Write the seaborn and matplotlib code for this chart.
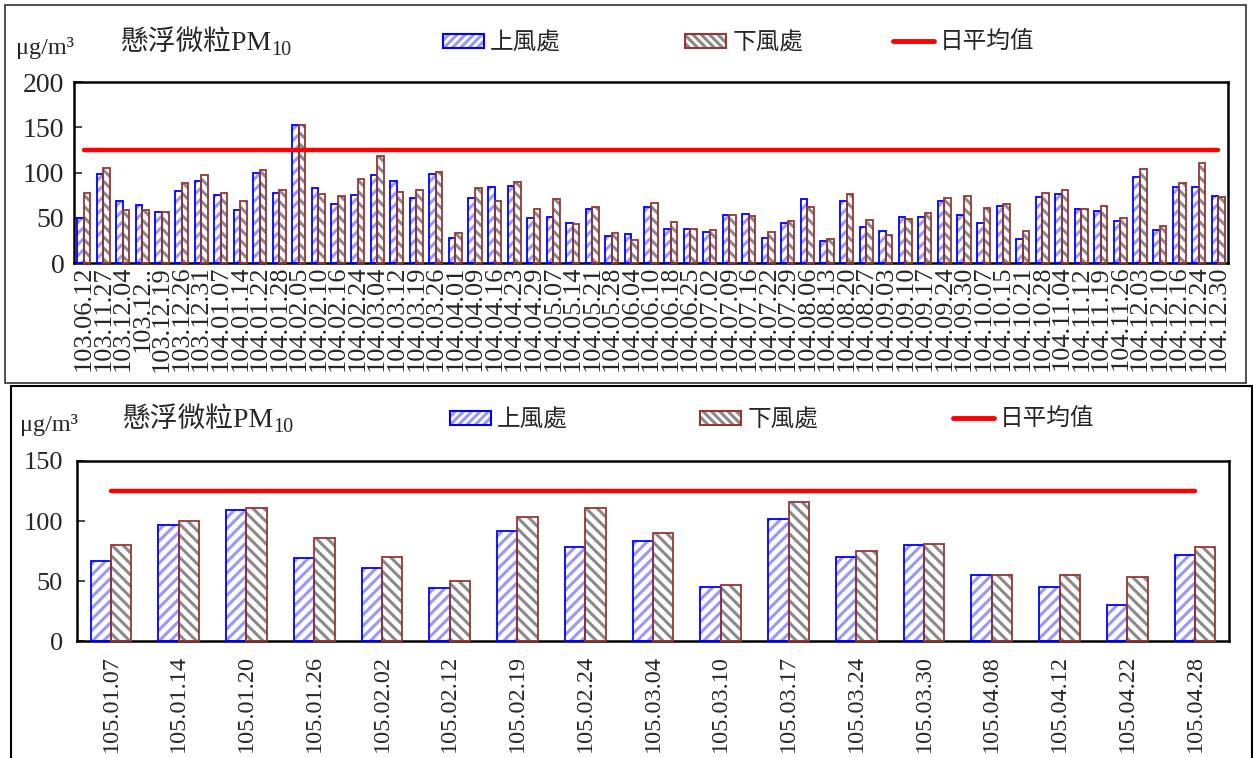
import numpy as np
import pandas as pd
import matplotlib.pyplot as plt
import seaborn as sns
from matplotlib.patches import Rectangle, Patch
from matplotlib.lines import Line2D

# 103-104年 監測資料
dates_1 = ['103.06.12', '103.11.27', '103.12.04', '103.12..', '103.12.19', '103.12.26',
           '103.12.31', '104.01.07', '104.01.14', '104.01.22', '104.01.28', '104.02.05',
           '104.02.10', '104.02.16', '104.02.24', '104.03.04', '104.03.12', '104.03.19',
           '104.03.26', '104.04.01', '104.04.09', '104.04.16', '104.04.23', '104.04.29',
           '104.05.07', '104.05.14', '104.05.21', '104.05.28', '104.06.04', '104.06.10',
           '104.06.18', '104.06.25', '104.07.02', '104.07.09', '104.07.16', '104.07.22',
           '104.07.29', '104.08.06', '104.08.13', '104.08.20', '104.08.27', '104.09.03',
           '104.09.10', '104.09.17', '104.09.24', '104.09.30', '104.10.07', '104.10.15',
           '104.10.21', '104.10.28', '104.11.04', '104.11.12', '104.11.19', '104.11.26',
           '104.12.03', '104.12.10', '104.12.16', '104.12.24', '104.12.30']
upwind_1 = [50, 98, 68, 64, 56, 80, 91, 75, 59, 99, 77, 152, 83, 65, 75, 97, 91, 72, 98, 28,
            72, 84, 85, 50, 51, 44, 60, 30, 32, 62, 38, 38, 34, 53, 54, 28, 44, 71, 24, 69,
            40, 35, 51, 51, 68, 53, 44, 63, 26, 73, 76, 60, 58, 46, 95, 36, 84, 84, 74]
downwind_1 = [77, 105, 59, 59, 56, 88, 97, 77, 68, 103, 81, 153, 76, 74, 93, 118, 79, 81, 101, 33,
              83, 69, 90, 60, 71, 43, 62, 33, 25, 66, 45, 38, 36, 53, 52, 34, 46, 62, 26, 76,
              47, 31, 49, 55, 72, 74, 61, 65, 35, 77, 81, 60, 63, 50, 104, 41, 88, 110, 73]

# 105年 監測資料
dates_2 = ['105.01.07', '105.01.14', '105.01.20', '105.01.26', '105.02.02', '105.02.12',
           '105.02.19', '105.02.24', '105.03.04', '105.03.10', '105.03.17', '105.03.24',
           '105.03.30', '105.04.08', '105.04.12', '105.04.22', '105.04.28']
upwind_2 = [67, 97, 109, 69, 61, 44, 92, 78, 83, 45, 102, 70, 80, 55, 45, 30, 72]
downwind_2 = [80, 100, 111, 86, 70, 50, 103, 111, 90, 47, 116, 75, 81, 55, 55, 53, 78]

daily_std = 125  # 日平均值
site_names = ['上風處', '下風處']
yticks_1 = [0, 50, 100, 150, 200]
yticks_2 = [0, 50, 100, 150]

sns.set_style('white')
plt.rcParams['font.family'] = ['Liberation Serif', 'Noto Sans CJK TC']
plt.rcParams['hatch.linewidth'] = 2.2

W, H = 1253, 758
up_hatch, up_edge = '#9999f5', '#0000ff'
dn_hatch, dn_edge = '#8a8a8a', '#953735'


def fx(px):
    return px / W


def fy(py):
    return 1 - py / H


def draw_panel(ax, dates, up, down, yticks, width, xfs, yfs, xpad, ypad):
    n = len(dates)
    df = pd.DataFrame({'date': dates * 2,
                       'value': up + down,
                       'site': [site_names[0]] * n + [site_names[1]] * n})
    sns.barplot(data=df, x='date', y='value', hue='site', hue_order=site_names,
                palette=['white', 'white'], saturation=1, width=width,
                legend=False, ax=ax)
    # hatch fill + coloured outline for each bar
    for cont, hc, ec in zip(ax.containers, [up_hatch, dn_hatch], [up_edge, dn_edge]):
        for bar in cont:
            bar.set_facecolor('white')
            bar.set_edgecolor(hc)
            bar.set_linewidth(0)
            bar.set_hatch('///' if ec == up_edge else '\\\\\\')
            ax.add_patch(Rectangle((bar.get_x(), bar.get_y()), bar.get_width(), bar.get_height(),
                                   fill=False, edgecolor=ec, lw=1.3, zorder=3, clip_on=False))
    ax.plot(np.arange(n), [daily_std] * n, color='red', lw=3.2,
            solid_capstyle='round', zorder=4)

    ax.set_xlim(-0.5, n - 0.5)
    ax.set_ylim(yticks[0], yticks[-1])
    ax.set_yticks(yticks)
    ax.set_xticks(np.arange(n))
    ax.set_xticklabels(dates, rotation=90, fontsize=xfs)
    ax.set_xticks(np.arange(n + 1) - 0.5, minor=True)
    ax.tick_params(axis='x', which='major', length=0, pad=xpad)
    ax.tick_params(axis='x', which='minor', direction='in', length=5, width=1.2, color='black')
    ax.tick_params(axis='y', direction='in', length=6, width=1.2, labelsize=yfs, pad=ypad, left=True)
    ax.set_xlabel('')
    ax.set_ylabel('')
    for sp in ax.spines.values():
        sp.set_visible(True)
        sp.set_color('black')
        sp.set_linewidth(1.8)


def draw_header(y_px, unit_x, title_x, leg_x):
    fig.text(fx(unit_x), fy(y_px + 5), 'μg/m³', fontsize=17.5, va='center')
    t = fig.text(fx(title_x), fy(y_px), '懸浮微粒PM', fontsize=20, va='center')
    fig.canvas.draw()
    bb = t.get_window_extent()
    # subscript sits below the PM baseline
    fig.text(bb.x1 / W, bb.y0 / H - 4 / H, '10', fontsize=14.5, va='bottom')

    h_up = (Patch(facecolor='white', edgecolor=up_hatch, hatch='////', lw=0),
            Patch(facecolor='none', edgecolor=up_edge, lw=1.5))
    h_dn = (Patch(facecolor='white', edgecolor=dn_hatch, hatch='\\\\\\\\', lw=0),
            Patch(facecolor='none', edgecolor=dn_edge, lw=1.5))
    h_ln = Line2D([], [], color='red', lw=3.5, solid_capstyle='round')
    for x0, h, lab in zip(leg_x, [h_up, h_dn, h_ln], site_names + ['日平均值']):
        fig.legend(handles=[h], labels=[lab], loc='center left',
                   bbox_to_anchor=(fx(x0), fy(y_px)), frameon=False, fontsize=17,
                   handlelength=1.75, handleheight=0.55, handletextpad=0.25,
                   borderpad=0, borderaxespad=0)


fig = plt.figure(figsize=(W / 100, H / 100), dpi=100)

# panel frames
fig.add_artist(Rectangle((fx(5), fy(383)), fx(1246) - fx(5), fy(5) - fy(383),
                         transform=fig.transFigure, fill=False, ec='#333333', lw=1.2))
fig.add_artist(Rectangle((fx(11), fy(770)), fx(1252) - fx(11), fy(386) - fy(770),
                         transform=fig.transFigure, fill=False, ec='black', lw=1.5))

ax1 = fig.add_axes([fx(74), fy(263), fx(1228) - fx(74), fy(82) - fy(263)])
draw_panel(ax1, dates_1, upwind_1, downwind_1, yticks_1, 0.67, 19, 20, 2, 7)

ax2 = fig.add_axes([fx(77), fy(641), fx(1229) - fx(77), fy(461) - fy(641)])
draw_panel(ax2, dates_2, upwind_2, downwind_2, yticks_2, 0.6, 17.5, 19, 10, 10)

draw_header(43, 16, 120, [443, 685, 893])
draw_header(420, 20, 122, [450, 700, 953])

plt.savefig('out.png', dpi=100)
